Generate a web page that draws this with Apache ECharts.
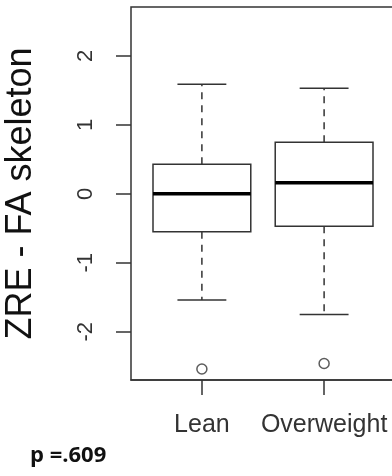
<!DOCTYPE html>
<html>
<head>
<meta charset="utf-8">
<script src="https://cdn.jsdelivr.net/npm/echarts@6/dist/echarts.min.js"></script>
<style>html,body{margin:0;padding:0;background:#fff}#c{width:392px;height:476px}</style>
</head>
<body>
<div id="c"></div>
<script>
const categories = ['Lean', 'Overweight'];
const lowerWhisker = [-1.54, -1.75];
const q1 = [-0.55, -0.47];
const median = [0.0, 0.16];
const q3 = [0.43, 0.75];
const upperWhisker = [1.59, 1.53];
const outliers = [-2.54, -2.46];
const yTicks = [-2, -1, 0, 1, 2];
const xTicks = [1, 2];
const yTitle = 'ZRE - FA skeleton';
const pText = 'p =.609';

const boxData = categories.map((c, i) => [i + 1, lowerWhisker[i], q1[i], median[i], q3[i], upperWhisker[i]]);
const outlierData = categories.map((c, i) => [i + 1, outliers[i]]);
const LINE = '#333';
const FONT = 'Liberation Sans, Arial, sans-serif';

const chart = echarts.init(document.getElementById('c'), null, {renderer: 'canvas'});
chart.setOption({
  animation: false,
  backgroundColor: '#fff',
  title: {
    text: pText, left: 25, top: 440,
    textStyle: {fontFamily: 'Open Sans, Noto Sans, sans-serif', fontWeight: 'bold', fontSize: 22, color: '#111'}
  },
  grid: {left: 131, right: -3, top: 7, bottom: 96, outerBoundsMode: 'none', containLabel: false,
         show: true, borderColor: LINE, borderWidth: 1.5, backgroundColor: 'transparent'},
  xAxis: {
    type: 'value', min: 0.42, max: 2.58,
    splitLine: {show: false},
    axisLine: {show: true, onZero: false, lineStyle: {color: LINE, width: 1.5}},
    axisTick: {show: true, inside: false, length: 15, customValues: xTicks, lineStyle: {color: LINE, width: 1.5}},
    axisLabel: {
      customValues: xTicks, margin: 33,
      formatter: v => categories[Math.round(v) - 1] || '',
      fontFamily: FONT, fontSize: 25, color: '#333'
    }
  },
  yAxis: {
    type: 'value', min: -2.7, max: 2.71,
    name: yTitle, nameLocation: 'middle', nameRotate: 90, nameGap: 92,
    nameTextStyle: {fontFamily: FONT, fontSize: 36, color: '#111'},
    splitLine: {show: false},
    axisLine: {show: false},
    axisTick: {show: true, length: 15, customValues: yTicks, lineStyle: {color: LINE, width: 1.5}},
    axisLabel: {
      customValues: yTicks, rotate: 90, margin: 34,
      fontFamily: FONT, fontSize: 22, color: '#333'
    }
  },
  series: [
    {
      type: 'custom',
      data: boxData,
      encode: {x: 0, y: [1, 2, 3, 4, 5]},
      renderItem: function (params, api) {
        const x = api.value(0);
        const halfBox = api.size([0.4, 0])[0];
        const halfCap = api.size([0.2, 0])[0];
        const pLow = api.coord([x, api.value(1)]);
        const pQ1 = api.coord([x, api.value(2)]);
        const pMed = api.coord([x, api.value(3)]);
        const pQ3 = api.coord([x, api.value(4)]);
        const pHigh = api.coord([x, api.value(5)]);
        const cx = pMed[0];
        const solid = {stroke: LINE, lineWidth: 1.5, fill: null};
        const dashed = {stroke: LINE, lineWidth: 1.5, lineDash: [7, 6], fill: null};
        return {
          type: 'group',
          children: [
            {type: 'line', shape: {x1: cx, y1: pQ3[1], x2: cx, y2: pHigh[1]}, style: dashed},
            {type: 'line', shape: {x1: cx, y1: pQ1[1], x2: cx, y2: pLow[1]}, style: dashed},
            {type: 'line', shape: {x1: cx - halfCap, y1: pHigh[1], x2: cx + halfCap, y2: pHigh[1]}, style: solid},
            {type: 'line', shape: {x1: cx - halfCap, y1: pLow[1], x2: cx + halfCap, y2: pLow[1]}, style: solid},
            {type: 'rect', shape: {x: cx - halfBox, y: pQ3[1], width: 2 * halfBox, height: pQ1[1] - pQ3[1]}, style: {stroke: LINE, lineWidth: 1.5, fill: '#fff'}},
            {type: 'line', shape: {x1: cx - halfBox, y1: pMed[1], x2: cx + halfBox, y2: pMed[1]}, style: {stroke: '#000', lineWidth: 3.5}}
          ]
        };
      }
    },
    {
      type: 'scatter',
      data: outlierData,
      symbol: 'circle', symbolSize: 10,
      itemStyle: {color: '#fff', borderColor: LINE, borderWidth: 1.5}
    }
  ]
});
</script>
</body>
</html>
